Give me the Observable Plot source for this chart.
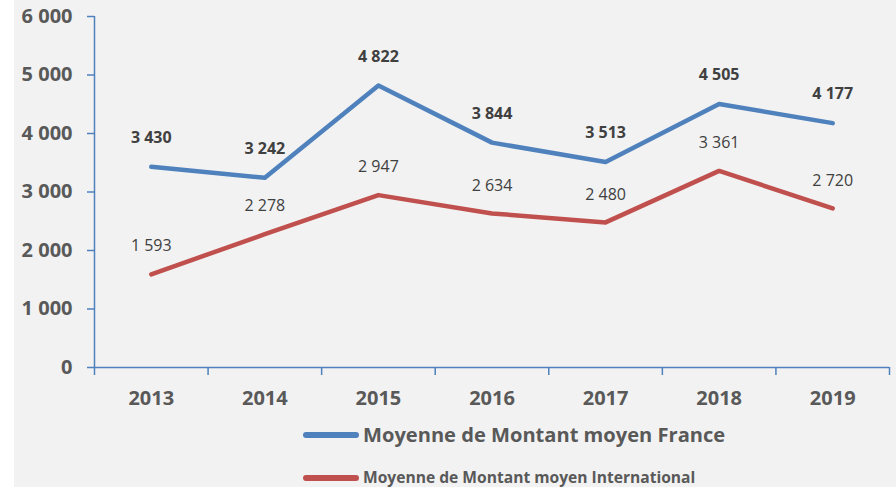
<!DOCTYPE html>
<html>
<head>
<meta charset="utf-8">
<script src="https://cdn.jsdelivr.net/npm/d3@7"></script>
<script src="https://cdn.jsdelivr.net/npm/@observablehq/plot@0.6"></script>
<style>
  html, body { margin: 0; padding: 0; background: #ffffff; }
  #wrap { position: relative; margin-left: 14px; width: 882px; height: 487px; background: #f2f2f2; overflow: hidden; font-family: "Open Sans", sans-serif; }
  #chart svg { display: block; }
  .lg { position: absolute; left: 0; width: 882px; height: 0; }
  .sw { position: absolute; left: 289px; width: 56px; height: 6px; border-radius: 3px; top: -3px; }
  .lt { position: absolute; left: 349px; white-space: nowrap; font-weight: bold; color: #595959; line-height: 1; transform: translateY(-50%); top: 0; }
</style>
</head>
<body>
<div id="wrap">
  <div id="chart"></div>
  <div class="lg" style="top:435px"><div class="sw" style="background:#4f81bd"></div><div class="lt" style="font-size:20.1px">Moyenne de Montant moyen France</div></div>
  <div class="lg" style="top:478px"><div class="sw" style="background:#c0504d"></div><div class="lt" style="font-size:15.6px">Moyenne de Montant moyen International</div></div>
</div>
<script>
const years = [2013, 2014, 2015, 2016, 2017, 2018, 2019];
const france = [3430, 3242, 4822, 3844, 3513, 4505, 4177];
const international = [1593, 2278, 2947, 2634, 2480, 3361, 2720];
const yTicks = [0, 1000, 2000, 3000, 4000, 5000, 6000];
const bandEdges = [2012.5, 2013.5, 2014.5, 2015.5, 2016.5, 2017.5, 2018.5, 2019.5];

const fmt = d => String(d).replace(/\B(?=(\d{3})+(?!\d))/g, "\u00a0");
const fr = years.map((y, i) => ({year: y, value: france[i]}));
const intl = years.map((y, i) => ({year: y, value: international[i]}));
const axisColor = "#4f81bd";

const chart = Plot.plot({
  width: 882,
  height: 410,
  marginLeft: 80,
  marginRight: 7,
  marginTop: 16,
  marginBottom: 43,
  style: {background: "transparent", fontFamily: "'Open Sans', sans-serif"},
  x: {type: "linear", domain: [2012.5, 2019.5], label: null},
  y: {domain: [0, 6000], label: null},
  marks: [
    Plot.axisY({ticks: yTicks, label: null, tickSize: 7, tickPadding: 15, tickFormat: fmt, stroke: axisColor, strokeWidth: 1.5, fill: "#595959", fontSize: 20, fontWeight: "bold"}),
    Plot.axisX({ticks: bandEdges, label: null, tickSize: 8, tickFormat: () => "", stroke: axisColor, strokeWidth: 1.5}),
    Plot.axisX({ticks: years, label: null, tickSize: 0, tickPadding: 23, tickFormat: d => String(d), fill: "#595959", fontSize: 20, fontWeight: "bold"}),
    Plot.ruleX([2012.5], {stroke: axisColor, strokeWidth: 1.5}),
    Plot.ruleY([0], {stroke: axisColor, strokeWidth: 1.5}),
    Plot.line(intl, {x: "year", y: "value", stroke: "#c0504d", strokeWidth: 4.5, strokeLinecap: "round", strokeLinejoin: "round"}),
    Plot.line(fr, {x: "year", y: "value", stroke: "#4f81bd", strokeWidth: 4.5, strokeLinecap: "round", strokeLinejoin: "round"}),
    Plot.text(fr, {x: "year", y: "value", text: d => fmt(d.value), dy: -29, fill: "#404040", fontSize: 16, fontWeight: "bold"}),
    Plot.text(intl, {x: "year", y: "value", text: d => fmt(d.value), dy: -28, fill: "#404040", fontSize: 16})
  ]
});
document.getElementById("chart").appendChild(chart);
</script>
</body>
</html>
